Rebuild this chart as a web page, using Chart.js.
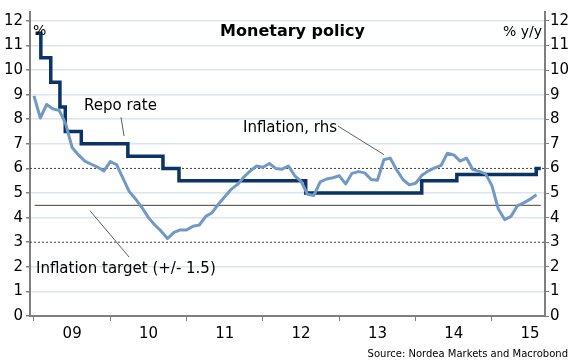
<!DOCTYPE html>
<html><head><meta charset="utf-8">
<script src="https://cdn.jsdelivr.net/npm/chart.js@4.4.1/dist/chart.umd.min.js"></script>
<style>html,body{margin:0;padding:0;background:#fff;}#wrap{width:585px;height:363px;position:relative;}</style>
</head><body><div id="wrap"><canvas id="c" width="585" height="363"></canvas></div>
<script>
// ---- data ----
const yearLabels = ['09','10','11','12','13','14','15'];
const years = [2009, 2010, 2011, 2012, 2013, 2014, 2015];
const yTicks = [0,1,2,3,4,5,6,7,8,9,10,11,12];
// CPI inflation, % y/y, monthly from Dec 2008 to Jul 2015
const inflation = [
  8.95, 8.05, 8.6, 8.42, 8.35, 7.8, 6.85, 6.55, 6.3, 6.17, 6.05, 5.9,
  6.28, 6.15, 5.6, 5.05, 4.75, 4.4, 4.0, 3.7, 3.45, 3.15, 3.4, 3.5,
  3.5, 3.65, 3.7, 4.05, 4.2, 4.55, 4.85, 5.15, 5.35, 5.65, 5.9, 6.1,
  6.05, 6.2, 6.0, 5.97, 6.1, 5.7, 5.47, 4.95, 4.9, 5.45, 5.57, 5.62,
  5.7, 5.37, 5.8, 5.87, 5.82, 5.55, 5.52, 6.35, 6.42, 5.95, 5.55, 5.33,
  5.4, 5.72, 5.9, 6.02, 6.12, 6.62, 6.55, 6.3, 6.42, 5.95, 5.88, 5.78,
  5.3, 4.35, 3.92, 4.05, 4.48, 4.6, 4.75, 4.93
];
const inflationFirstYear = 2008, inflationFirstMonth = 12;
// Repo rate changes (decimal year of change, new rate)
const repoDates = [2009.02, 2009.09, 2009.22, 2009.34, 2009.41, 2009.62, 2010.23, 2010.69, 2010.90, 2012.56, 2014.08, 2014.54, 2015.58, 2015.64];
const repoRates = [11.5, 10.5, 9.5, 8.5, 7.5, 7.0, 6.5, 6.0, 5.5, 5.0, 5.5, 5.75, 6.0, 6.0];
const targetMid = 4.5, targetLow = 3, targetHigh = 6;
const targetSpan = [2009.01, 2015.64];
const xRange = [2008.948, 2015.695];
const yRange = [0, 12.36];

// ---- build ----
const inflPts = inflation.map((v, k) => ({x: inflationFirstYear + (inflationFirstMonth + k) / 12, y: v}));
const repoPts = repoDates.map((d, i) => ({x: d, y: repoRates[i]}));
const hline = (v, a, b) => [{x: a, y: v}, {x: b, y: v}];

const FONT = 'DejaVu Sans';
Chart.defaults.font.family = FONT;
Chart.defaults.color = '#000';

const notes = [
  {text: 'Repo rate', x: 2009.655, y: 8.52},
  {text: 'Inflation, rhs', x: 2011.738, y: 7.64},
  {text: 'Inflation target (+/- 1.5)', x: 2009.026, y: 1.92}
];
const leaders = [
  [2010.14, 8.08, 2010.18, 7.32],
  [2012.983, 7.72, 2013.585, 6.56],
  [2009.734, 4.28, 2010.245, 2.4]
];

const annot = {
  id: 'annot',
  afterDatasetsDraw(chart) {
    const ctx = chart.ctx, xs = chart.scales.x, ys = chart.scales.y, ca = chart.chartArea;
    ctx.save();
    ctx.strokeStyle = '#333'; ctx.lineWidth = 0.8;
    leaders.forEach(l => {
      ctx.beginPath();
      ctx.moveTo(xs.getPixelForValue(l[0]), ys.getPixelForValue(l[1]));
      ctx.lineTo(xs.getPixelForValue(l[2]), ys.getPixelForValue(l[3]));
      ctx.stroke();
    });
    ctx.fillStyle = '#000';
    ctx.textBaseline = 'middle';
    ctx.textAlign = 'left';
    ctx.font = '15px "' + FONT + '"';
    notes.forEach(n => ctx.fillText(n.text, xs.getPixelForValue(n.x), ys.getPixelForValue(n.y)));
    ctx.font = '14px "' + FONT + '"';
    ctx.fillText('%', ca.left + 3, ca.top + 19);
    ctx.textAlign = 'right';
    ctx.fillText('% y/y', ca.right - 3, ca.top + 20);
    ctx.textAlign = 'center';
    ctx.font = 'bold 16px "' + FONT + '"';
    ctx.fillText('Monetary policy', chart.width / 2, 32);
    ctx.textAlign = 'right';
    ctx.font = '10px "' + FONT + '"';
    ctx.fillText('Source: Nordea Markets and Macrobond', 568, 354);
    ctx.restore();
  }
};

const GRID = '#dce5ee', AXIS = '#7f7f7f';
const setTicks = vals => scale => { scale.ticks = vals.map(v => ({value: v})); };
const xTickVals = [];
years.forEach(y => { xTickVals.push(y, y + 0.5); });

new Chart(document.getElementById('c'), {
  type: 'line',
  data: {
    datasets: [
      {label: 'Inflation, rhs', data: inflPts, yAxisID: 'y2', borderColor: '#7099c6', borderWidth: 3, pointRadius: 0, tension: 0, borderJoinStyle: 'round', order: 0},
      {label: 'Repo rate', data: repoPts, yAxisID: 'y', borderColor: '#0b3366', borderWidth: 3.5, pointRadius: 0, stepped: 'before', borderJoinStyle: 'miter', borderCapStyle: 'butt', order: 1},
      {label: 'target', data: hline(targetMid, targetSpan[0], targetSpan[1]), yAxisID: 'y', borderColor: '#404040', borderWidth: 1, pointRadius: 0, order: 2},
      {label: 'low', data: hline(targetLow, xRange[0], xRange[1]), yAxisID: 'y', borderColor: '#404040', borderWidth: 1, borderDash: [2, 2], pointRadius: 0, order: 3},
      {label: 'high', data: hline(targetHigh, xRange[0], xRange[1]), yAxisID: 'y', borderColor: '#404040', borderWidth: 1, borderDash: [2, 2], pointRadius: 0, order: 4}
    ]
  },
  options: {
    responsive: false, animation: false, devicePixelRatio: 1,
    layout: {padding: {top: 7, left: 0, right: 0, bottom: 0}},
    plugins: {legend: {display: false}, tooltip: {enabled: false}, title: {display: false}},
    scales: {
      x: {
        type: 'linear', min: xRange[0], max: xRange[1],
        afterBuildTicks: setTicks(xTickVals),
        afterFit: s => { s.height = 47; },
        border: {display: true, color: AXIS, width: 2},
        grid: {drawOnChartArea: false, drawTicks: true, tickLength: 5,
          tickColor: c => (c.tick && Number.isInteger(c.tick.value)) ? AXIS : 'rgba(0,0,0,0)'},
        ticks: {autoSkip: false, maxRotation: 0, minRotation: 0, padding: 4, font: {size: 15},
          callback: v => { const i = years.indexOf(v - 0.5); return i >= 0 ? yearLabels[i] : ''; }}
      },
      y: {
        position: 'left', min: yRange[0], max: yRange[1],
        afterBuildTicks: setTicks(yTicks),
        afterFit: s => { s.width = 30; },
        border: {display: true, color: AXIS, width: 2},
        grid: {color: c => (c.tick && [0, targetLow, targetHigh].includes(c.tick.value)) ? 'rgba(0,0,0,0)' : GRID,
          lineWidth: 1.5, tickColor: AXIS, tickLength: 4, drawTicks: true},
        ticks: {padding: 3, font: {size: 15}}
      },
      y2: {
        position: 'right', min: yRange[0], max: yRange[1],
        afterBuildTicks: setTicks(yTicks),
        afterFit: s => { s.width = 40; },
        border: {display: true, color: AXIS, width: 2},
        grid: {drawOnChartArea: false, tickColor: AXIS, tickLength: 4, drawTicks: true},
        ticks: {padding: 1, font: {size: 15}}
      }
    }
  },
  plugins: [annot]
});
</script></body></html>
